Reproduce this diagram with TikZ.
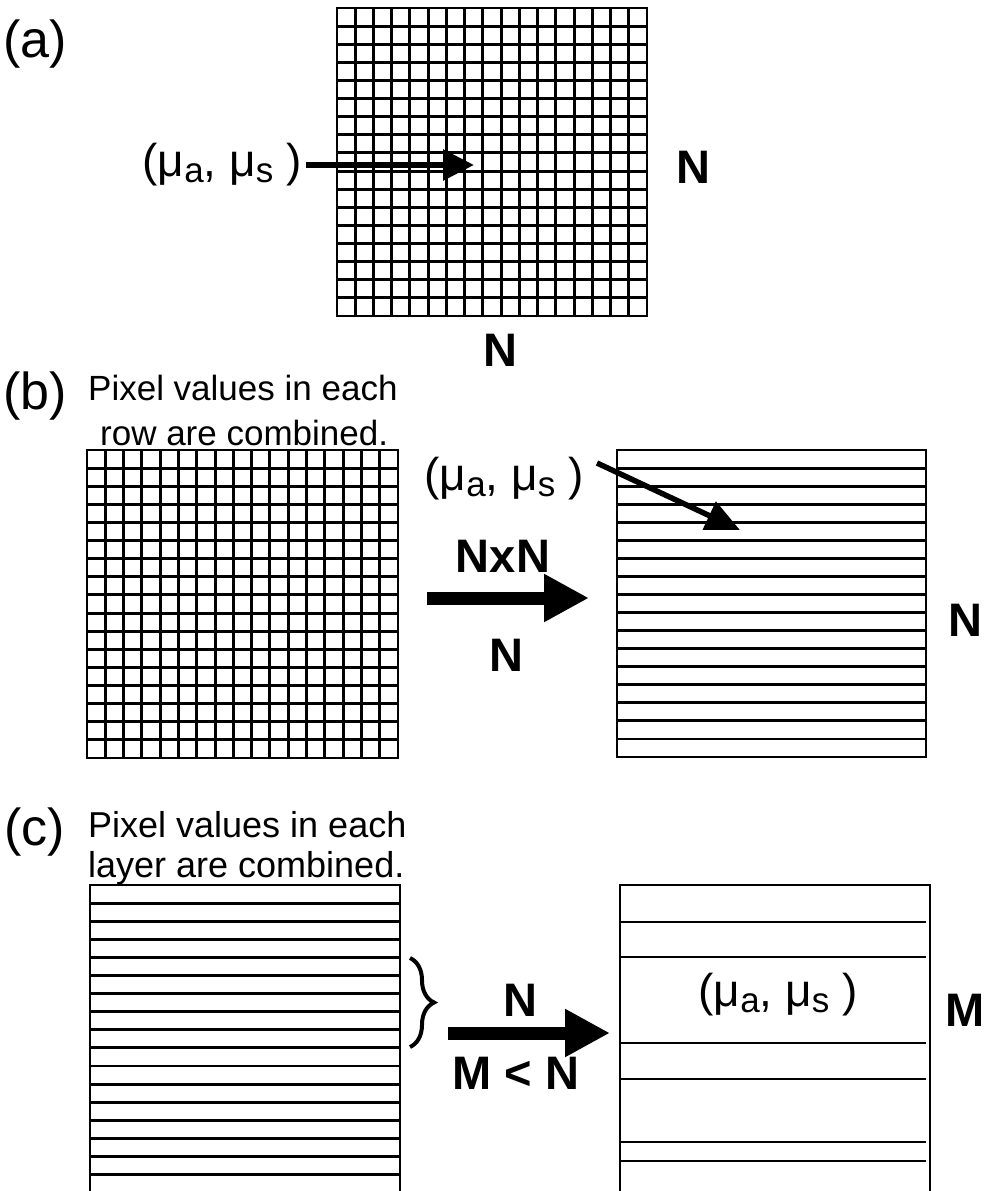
\documentclass[tikz,border=0pt]{standalone}
\usepackage{fontspec}
\setmainfont{Liberation Sans}
\usetikzlibrary{arrows.meta,decorations.pathreplacing}
\newcommand\muval{(μ\raisebox{-0.12em}{\fontsize{35}{35}\selectfont a}, μ\raisebox{-0.12em}{\fontsize{35}{35}\selectfont s} )}
\begin{document}
\begin{tikzpicture}[x=1pt,y=-1pt,
  gridline/.style={line width=2.9pt},
  frame/.style={draw, line width=2.9pt, inner sep=0pt, outer sep=0pt},
  lbl/.style={inner sep=0pt, font=\fontsize{52}{56}\selectfont},
  note/.style={inner sep=0pt, font=\fontsize{35}{40}\selectfont},
  boldlbl/.style={inner sep=0pt, font=\fontsize{47}{50}\selectfont\bfseries},
  muv/.style={inner sep=0pt, font=\fontsize{46}{50}\selectfont},
  bigarrow/.style={line width=13pt, -{Triangle[length=45pt,width=45pt]}},
  medarrow/.style={line width=6pt, -{Triangle[length=31pt,width=30pt]}},
  thinarrow/.style={line width=5.5pt, -{Triangle[length=34pt,width=30pt]}}]
\useasboundingbox (0,0) rectangle (989,1191);
\clip (0,0) rectangle (989,1191);

% ---------- (a) ----------
\node[lbl] (la) at (35,44) {(a)};
\foreach \i in {1,...,16} {
  \draw[gridline] ({337+\i*310/17},8) -- ({337+\i*310/17},316);
  \draw[gridline] (337,{8+\i*308/17}) -- (647,{8+\i*308/17});
}
\node[frame, minimum width=310pt, minimum height=308pt] (ga) at (492,162) {};
\node[muv] (mua) at (222,165) {\muval};
\coordinate (tipa) at (474,165);
\draw[medarrow] ([xshift=4pt]mua.east) -- (tipa);
\node[boldlbl] (na1) at (693,167) {N};
\node[boldlbl] (na2) at (500,350) {N};

% ---------- (b) ----------
\node[lbl] (lb) at (35,396) {(b)};
\node[note, anchor=base west] (tb1) at (88,400) {Pixel values in each};
\node[note, anchor=base west] (tb2) at (100,445) {row are combined.};
\foreach \i in {1,...,16} {
  \draw[gridline] ({87+\i*311/17},450) -- ({87+\i*311/17},758);
  \draw[gridline] (87,{450+\i*308/17}) -- (398,{450+\i*308/17});
}
\node[frame, minimum width=311pt, minimum height=308pt] (gb) at (242.5,604) {};
\foreach \i in {1,...,16} {
  \draw[gridline] (617,{450+\i*307/17}) -- (926,{450+\i*307/17});
}
\node[frame, minimum width=309pt, minimum height=307pt] (rb) at (771.5,603.5) {};
\node[muv] (mub) at (504,479) {\muval};
\coordinate (sb) at (597,463);
\coordinate (tipb) at (740,530);
\draw[thinarrow] (sb) -- (tipb);
\node[boldlbl] (nxn) at (503,556) {NxN};
\coordinate (b1) at (427,598);
\coordinate (b2) at (589,598);
\draw[bigarrow] (b1) -- (b2);
\node[boldlbl] (nb1) at (506,655) {N};
\node[boldlbl] (nb2) at (965,620) {N};

% ---------- (c) ----------
\node[lbl] (lc) at (35,832) {(c)};
\node[note, anchor=base west, font=\fontsize{36}{40}\selectfont] (tc1) at (88,837) {Pixel values in each};
\node[note, anchor=base west, font=\fontsize{36}{40}\selectfont] (tc2) at (88,877) {layer are combined.};
\foreach \i in {1,...,16} {
  \draw[gridline] (90,{885+\i*18.1}) -- (400,{885+\i*18.1});
}
\draw[line width=2.9pt] (90,1200) -- (90,885) -- (400,885) -- (400,1200);
\foreach \y in {922,957,1043,1079,1142,1161} {
  \draw[gridline] (620,\y) -- (926,\y);
}
\draw[line width=2.9pt] (620,1200) -- (620,885) -- (930,885) -- (930,1200);
\node[muv] (muc) at (778,995) {\muval};
\draw[line width=4pt, decorate, decoration={brace, amplitude=24pt}] (410,958) -- (410,1047);
\coordinate (c1) at (448,1033);
\coordinate (c2) at (610,1033);
\draw[bigarrow] (c1) -- (c2);
\node[boldlbl] (nc) at (520,1000) {N};
\node[boldlbl] (mn) at (516,1073) {M < N};
\node[boldlbl] (mr) at (965,1010) {M};
\end{tikzpicture}
\end{document}
